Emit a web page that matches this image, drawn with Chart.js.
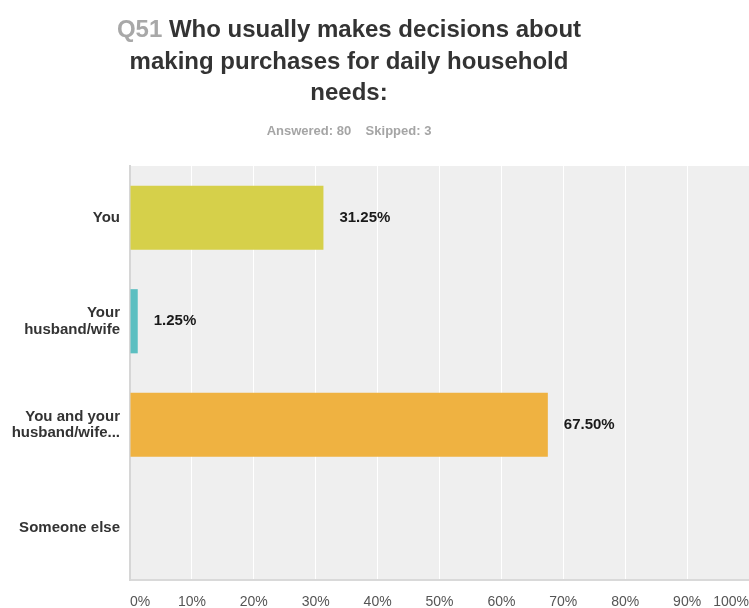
<!DOCTYPE html>
<html>
<head>
<meta charset="utf-8">
<script src="https://cdn.jsdelivr.net/npm/chart.js@4/dist/chart.umd.min.js"></script>
<style>
  html, body { margin: 0; padding: 0; background: #fff; }
  #wrap { width: 749px; height: 608px; }
</style>
</head>
<body>
<div id="wrap"><canvas id="q51Chart"></canvas></div>
<script>
const questionNo = "Q51";
const titleLines = ["Who usually makes decisions about", "making purchases for daily household", "needs:"];
const answeredText = "Answered: 80    Skipped: 3";

const answers = [["You"], ["Your", "husband/wife"], ["You and your", "husband/wife..."], ["Someone else"]];
const shares = [31.25, 1.25, 67.50, 0];
const barColors = ["#d6d04a", "#5cbfc1", "#efb241", "#9c6fb0"];
const tickValues = [0, 10, 20, 30, 40, 50, 60, 70, 80, 90, 100];

const FONT = "'Liberation Sans', Arial, sans-serif";

// grey plot background
const plotBg = {
  id: "plotBg",
  beforeDraw(chart) {
    const { ctx, chartArea: a } = chart;
    ctx.save();
    ctx.fillStyle = "#efefef";
    ctx.fillRect(a.left, a.top, a.right - a.left, a.bottom - a.top);
    ctx.restore();
  }
};

// question title + answered/skipped line
const header = {
  id: "header",
  afterDraw(chart) {
    const { ctx } = chart;
    const cx = 349;
    ctx.save();
    ctx.font = "bold 24px " + FONT;
    ctx.textBaseline = "alphabetic";
    ctx.textAlign = "left";
    const baselines = [37, 69, 100];
    titleLines.forEach((line, i) => {
      if (i === 0) {
        const pre = questionNo + " ";
        const w1 = ctx.measureText(pre).width;
        const w2 = ctx.measureText(line).width;
        let x = cx - (w1 + w2) / 2;
        ctx.fillStyle = "#a8a8a8";
        ctx.fillText(pre, x, baselines[i]);
        ctx.fillStyle = "#333333";
        ctx.fillText(line, x + w1, baselines[i]);
      } else {
        const w = ctx.measureText(line).width;
        ctx.fillStyle = "#333333";
        ctx.fillText(line, cx - w / 2, baselines[i]);
      }
    });
    ctx.font = "bold 13px " + FONT;
    ctx.fillStyle = "#a5a5a5";
    ctx.textAlign = "center";
    ctx.fillText(answeredText, cx, 135);
    ctx.restore();
  }
};

// percentage label right of each bar
const valueLabels = {
  id: "valueLabels",
  afterDatasetsDraw(chart) {
    const { ctx } = chart;
    const meta = chart.getDatasetMeta(0);
    ctx.save();
    ctx.font = "bold 15px " + FONT;
    ctx.fillStyle = "#1a1a1a";
    ctx.textAlign = "left";
    ctx.textBaseline = "middle";
    meta.data.forEach((bar, i) => {
      if (!shares[i]) return;
      ctx.fillText(shares[i].toFixed(2) + "%", bar.x + 16, bar.y);
    });
    ctx.restore();
  }
};

new Chart(document.getElementById("q51Chart"), {
  type: "bar",
  data: {
    labels: answers,
    datasets: [{
      data: shares,
      backgroundColor: barColors,
      borderWidth: 0,
      categoryPercentage: 1,
      barPercentage: 0.62
    }]
  },
  options: {
    indexAxis: "y",
    responsive: true,
    maintainAspectRatio: false,
    animation: false,
    layout: { padding: { top: 166, left: 0, right: 0, bottom: 0 } },
    plugins: { legend: { display: false }, tooltip: { enabled: false }, title: { display: false } },
    scales: {
      x: {
        min: 0,
        max: 100,
        afterBuildTicks(scale) { scale.ticks = tickValues.map(v => ({ value: v })); },
        afterFit(scale) {
          scale.height = 28;
          scale.paddingLeft = 0;
          scale.paddingRight = 0;
        },
        grid: { color: "#ffffff", lineWidth: 1, drawTicks: false },
        border: { display: true, color: "#d9d9d9", width: 2 },
        ticks: {
          align: "inner",
          padding: 14,
          color: "#555555",
          font: { family: FONT, size: 14 },
          callback: v => v + "%"
        }
      },
      y: {
        afterFit(scale) { scale.width = 130; },
        grid: { display: false },
        border: { display: true, color: "#d6d6d6", width: 2 },
        ticks: {
          padding: 2,
          color: "#333333",
          font: { family: FONT, size: 15, weight: "bold", lineHeight: 1.1 }
        }
      }
    }
  },
  plugins: [plotBg, header, valueLabels]
});
</script>
</body>
</html>
